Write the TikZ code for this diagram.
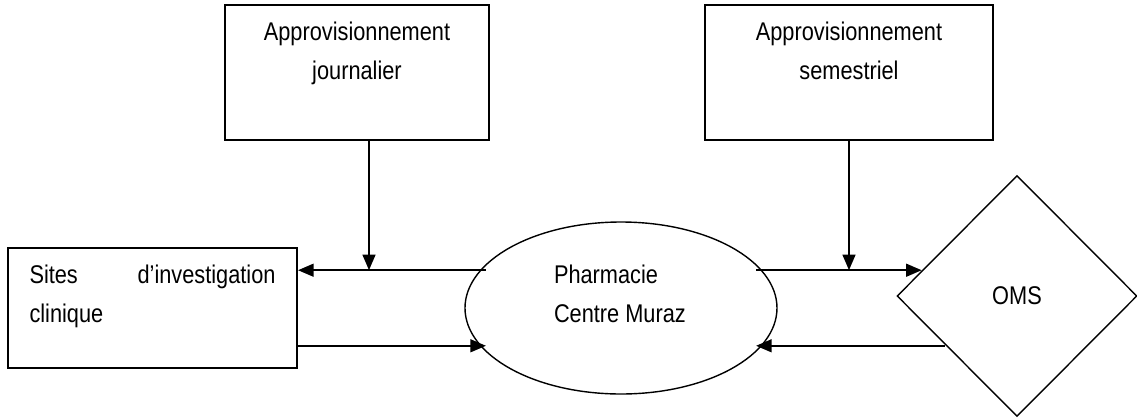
\documentclass[tikz,border=0pt]{standalone}
\usepackage{fontspec}
\setmainfont[FakeStretch=0.85]{Liberation Sans}
\usetikzlibrary{shapes.geometric,arrows.meta}
% box contents: height, width, alignment, text
\newcommand{\bloc}[4]{\parbox[c][#1][t]{#2}{#3\rule{0pt}{17.6pt}#4}}

\begin{document}
\begin{tikzpicture}[x=0.5pt,y=-0.5pt,
    every node/.style={font=\fontsize{12.8pt}{19.75pt}\selectfont, inner sep=0pt},
    boite/.style={draw, line width=1pt},
    forme/.style={draw, line width=0.7pt},
    fleche/.style={line width=1pt, -{Triangle[length=7.8pt,width=6.4pt]}}]
      \useasboundingbox (0,0) rectangle (1137,419);
      \node[boite] (jour) at (357,72.5) {\bloc{67.5pt}{132pt}{\centering}{Approvisionnement\\journalier}};
      \node[boite] (sem) at (849,72.5) {\bloc{67.5pt}{144pt}{\centering}{Approvisionnement\\semestriel}};
      \node[boite, inner xsep=10.75pt] (sites) at (152.5,308) {\bloc{60pt}{123pt}{\raggedright}{Sites\hfill d’investigation\\clinique}};
      \node[forme, ellipse, minimum width=156pt, minimum height=86pt] (pharma) at (621,308) {\bloc{60pt}{67pt}{\raggedright}{Pharmacie\\Centre Muraz}};
      \node[forme, diamond, minimum width=120pt, minimum height=120.5pt] (oms) at (1017,296) {OMS};
      % flux
      \draw[fleche, shorten <=-3pt] (pharma.165) -- (pharma.165 -| sites.east);
      \draw[fleche, shorten >=-3pt] (pharma.195 -| sites.east) -- (pharma.195);
      \draw[fleche, shorten <=-3pt] (pharma.15) -- (pharma.15 -| oms.165);
      \draw[fleche, shorten >=-3pt] (pharma.345 -| oms.214.5) -- (pharma.345);
      \draw[fleche] ([xshift=6pt]jour.south) -- ([xshift=6pt]jour.south |- pharma.165);
      \draw[fleche] (sem.south) -- (sem.south |- pharma.15);
    \end{tikzpicture}
\end{document}
